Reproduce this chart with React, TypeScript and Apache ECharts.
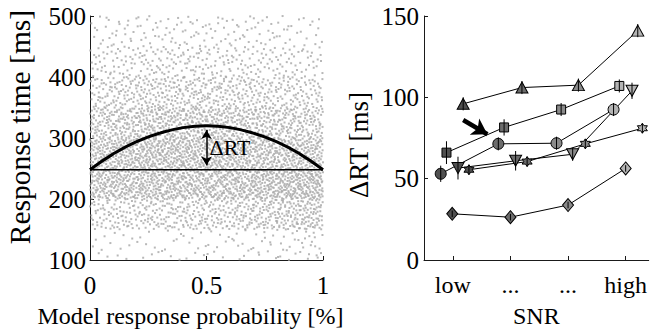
import React, { useEffect, useRef } from "react";
import * as echarts from "echarts";

// ---------- Left panel: scatter density ----------
// RT bin starts (ms), probability bin starts
const rtBins = [100, 150, 200, 250, 300, 350, 400, 450];
const probBins = [0, 0.1, 0.2, 0.3, 0.4, 0.5, 0.6, 0.7, 0.8, 0.9];
// estimated dot counts per cell (rows = rtBins, cols = probBins)
const dotCounts = [
  [7, 7, 8, 8, 9, 9, 10, 12, 14, 18],
  [38, 40, 42, 44, 46, 48, 52, 58, 66, 70],
  [92, 96, 98, 98, 96, 96, 100, 106, 112, 115],
  [90, 100, 105, 105, 102, 100, 96, 95, 95, 92],
  [64, 72, 78, 80, 80, 78, 74, 70, 66, 60],
  [40, 45, 48, 50, 50, 48, 45, 43, 40, 37],
  [23, 25, 27, 28, 28, 26, 25, 23, 22, 20],
  [13, 14, 15, 15, 15, 15, 14, 14, 13, 11],
];

// fitted curve
const curveX = [0, 0.1, 0.2, 0.3, 0.4, 0.5, 0.6, 0.7, 0.8, 0.9, 1];
const curveY = [248, 274, 294, 308, 317, 320, 317, 308, 294, 274, 248];
const baseX = [0, 1];
const baseY = [248, 248];

// ---------- Right panel ----------
const snrLevels = ["low", "...", "...", "high"];
const levelColors = ["#505050", "#6c6c6c", "#8a8a8a", "#b4b4b4"];

const triUpX = [1.18, 2.2, 3.18, 4.21];
const triUpY = [96, 106, 107.5, 141];
const triUpErr = [4, 4, 4, 4];

const squareX = [0.89, 1.89, 2.88, 3.89];
const squareY = [66, 81.5, 92.5, 107];
const squareErr = [7, 5, 4, 4];

const circleX = [0.79, 1.79, 2.8, 3.79];
const circleY = [53, 71.4, 71.8, 92.5];
const circleErr = [5, 4, 4, 4];

const triDownX = [1.09, 2.09, 3.08, 4.11];
const triDownY = [56.5, 61, 65, 104];
const triDownErr = [7, 6, 4, 5];

const starX = [1.28, 2.29, 3.3, 4.29];
const starY = [55.5, 60.5, 71.4, 81];
const starErr = [3, 3, 3, 3];

const diamondX = [0.99, 2.0, 3.0, 4.0];
const diamondY = [28.4, 26.3, 33.8, 56.3];
const diamondErr = [2, 2, 2, 2];

const FONT = "Liberation Serif";
const HEXAGRAM =
  "path://M0,-10 L2.887,-5 L8.66,-5 L5.774,0 L8.66,5 L2.887,5 L0,10 L-2.887,5 L-8.66,5 L-5.774,0 L-8.66,-5 L-2.887,-5 Z";

function halton(i: number, b: number) {
  let f = 1;
  let r = 0;
  while (i > 0) {
    f /= b;
    r += f * (i % b);
    i = Math.floor(i / b);
  }
  return r;
}

function buildDots() {
  const pts: number[][] = [];
  let k = 1;
  for (let r = 0; r < rtBins.length; r++) {
    for (let c = 0; c < probBins.length; c++) {
      const n = dotCounts[r][c];
      for (let j = 0; j < n; j++) {
        pts.push([probBins[c] + 0.1 * halton(k, 2), rtBins[r] + 50 * halton(k, 3)]);
        k++;
      }
    }
  }
  return pts;
}

function markerSeries(name: string, xs: number[], ys: number[], symbol: string, size: any, rotate = 0, extra: any = {}) {
  return {
    name,
    type: "line",
    xAxisIndex: 1,
    yAxisIndex: 1,
    symbol,
    symbolSize: size,
    symbolRotate: rotate,
    showSymbol: true,
    lineStyle: { color: "#000", width: 1 },
    itemStyle: { borderColor: "#000", borderWidth: 1 },
    data: xs.map((x, i) => ({ value: [x, ys[i]], itemStyle: { color: levelColors[i] } })),
    z: 3,
    ...extra,
  };
}

function errData() {
  const out: number[][] = [];
  const sets = [
    [triUpX, triUpY, triUpErr],
    [squareX, squareY, squareErr],
    [circleX, circleY, circleErr],
    [triDownX, triDownY, triDownErr],
    [starX, starY, starErr],
    [diamondX, diamondY, diamondErr],
  ];
  sets.forEach(([xs, ys, es]) => xs.forEach((x, i) => out.push([x, ys[i], es[i]])));
  return out;
}

const axisLineStyle = { show: true, lineStyle: { color: "#1a1a1a", width: 1 } };
const labelStyle = { fontFamily: FONT, fontSize: 25, color: "#000" };
const nameStyle = { fontFamily: FONT, fontSize: 24, color: "#000" };

export default function App() {
  const ref = useRef<HTMLDivElement>(null);
  useEffect(() => {
    if (!ref.current) return;
    const chart = echarts.init(ref.current, null, { renderer: "svg" });
    const option: any = {
      animation: false,
      backgroundColor: "#fff",
      grid: [
        { left: 90, top: 16, width: 233, height: 249 },
        { left: 424, top: 16, width: 225, height: 249 },
      ],
      xAxis: [
        {
          gridIndex: 0,
          type: "value",
          min: 0,
          max: 1,
          interval: 0.5,
          axisLine: axisLineStyle,
          axisTick: { show: true, inside: true, length: 4, lineStyle: { color: "#1a1a1a" } },
          splitLine: { show: false },
          axisLabel: { ...labelStyle, margin: 13 },
          name: "Model response probability [%]",
          nameLocation: "middle",
          nameGap: 44,
          nameTextStyle: { ...nameStyle, padding: [0, 32, 0, 0] },
        },
        {
          gridIndex: 1,
          type: "value",
          min: 0.5,
          max: 4.4,
          axisLine: axisLineStyle,
          axisTick: { show: true, inside: true, length: 4, customValues: [1, 2, 3, 4], lineStyle: { color: "#1a1a1a" } },
          splitLine: { show: false },
          axisLabel: {
            ...labelStyle,
            fontSize: 24,
            margin: 13,
            customValues: [1, 2, 3, 4],
            formatter: (v: number) => snrLevels[Math.round(v) - 1] ?? "",
          },
          name: "SNR",
          nameLocation: "middle",
          nameGap: 44,
          nameTextStyle: nameStyle,
        },
      ],
      yAxis: [
        {
          gridIndex: 0,
          type: "value",
          min: 100,
          max: 500,
          interval: 100,
          axisLine: axisLineStyle,
          axisTick: { show: true, inside: true, length: 4, lineStyle: { color: "#1a1a1a" } },
          splitLine: { show: false },
          axisLabel: { ...labelStyle, margin: 4 },
          name: "Response time [ms]",
          nameLocation: "middle",
          nameGap: 55,
          nameTextStyle: { ...nameStyle, fontSize: 29.5, padding: [0, 0, 0, 22] },
        },
        {
          gridIndex: 1,
          type: "value",
          min: 0,
          max: 150,
          interval: 50,
          axisLine: axisLineStyle,
          axisTick: { show: true, inside: true, length: 4, lineStyle: { color: "#1a1a1a" } },
          splitLine: { show: false },
          axisLabel: { ...labelStyle, margin: 5 },
          name: "ΔRT [ms]",
          nameLocation: "middle",
          nameGap: 52,
          nameTextStyle: { ...nameStyle, fontSize: 27, padding: [0, 14, 0, 0] },
        },
      ],
      series: [
        {
          type: "scatter",
          xAxisIndex: 0,
          yAxisIndex: 0,
          symbol: "rect",
          symbolSize: 2,
          itemStyle: { color: "#a6a6a6" },
          silent: true,
          data: buildDots(),
          z: 1,
        },
        {
          type: "line",
          xAxisIndex: 0,
          yAxisIndex: 0,
          symbol: "none",
          lineStyle: { color: "#000", width: 1.5 },
          data: baseX.map((x, i) => [x, baseY[i]]),
          z: 3,
        },
        {
          type: "line",
          xAxisIndex: 0,
          yAxisIndex: 0,
          symbol: "none",
          smooth: true,
          lineStyle: { color: "#000", width: 3 },
          data: curveX.map((x, i) => [x, curveY[i]]),
          z: 3,
          markLine: {
            silent: true,
            symbol: ["arrow", "arrow"],
            symbolSize: [8, 9],
            label: { show: false },
            lineStyle: { color: "#000", width: 1.5, type: "solid" },
            data: [[{ coord: [0.5, 255] }, { coord: [0.5, 313] }]],
          },
          markPoint: {
            silent: true,
            symbol: "circle",
            symbolSize: 0,
            label: {
              show: true,
              position: "right",
              distance: 3,
              formatter: "ΔRT",
              fontFamily: FONT,
              fontSize: 22,
              color: "#000",
            },
            data: [{ coord: [0.5, 284] }],
          },
        },
        markerSeries("triUp", triUpX, triUpY, "triangle", [12, 11]),
        markerSeries("square", squareX, squareY, "rect", 9),
        markerSeries("circle", circleX, circleY, "circle", 11),
        markerSeries("triDown", triDownX, triDownY, "triangle", [12, 11], 180),
        markerSeries("star", starX, starY, HEXAGRAM, 10),
        markerSeries("diamond", diamondX, diamondY, "diamond", [11, 13], 0, {
          markLine: {
            silent: true,
            symbol: ["none", "arrow"],
            symbolSize: [14, 15],
            label: { show: false },
            lineStyle: { color: "#000", width: 4.5, type: "solid" },
            data: [[{ coord: [1.18, 86.1] }, { coord: [1.6, 77.3] }]],
          },
        }),
        {
          type: "custom",
          xAxisIndex: 1,
          yAxisIndex: 1,
          silent: true,
          z: 4,
          encode: { x: 0, y: 1 },
          data: errData(),
          renderItem: (params: any, api: any) => {
            const x = api.value(0);
            const y = api.value(1);
            const e = api.value(2);
            const p1 = api.coord([x, y - e]);
            const p2 = api.coord([x, y + e]);
            return {
              type: "line",
              shape: { x1: p1[0], y1: p1[1], x2: p2[0], y2: p2[1] },
              style: { stroke: "#000", lineWidth: 1 },
            };
          },
        },
      ],
    };
    chart.setOption(option);
    return () => chart.dispose();
  }, []);
  return <div ref={ref} style={{ position: "fixed", left: 0, top: 0, width: 650, height: 333 }} />;
}
